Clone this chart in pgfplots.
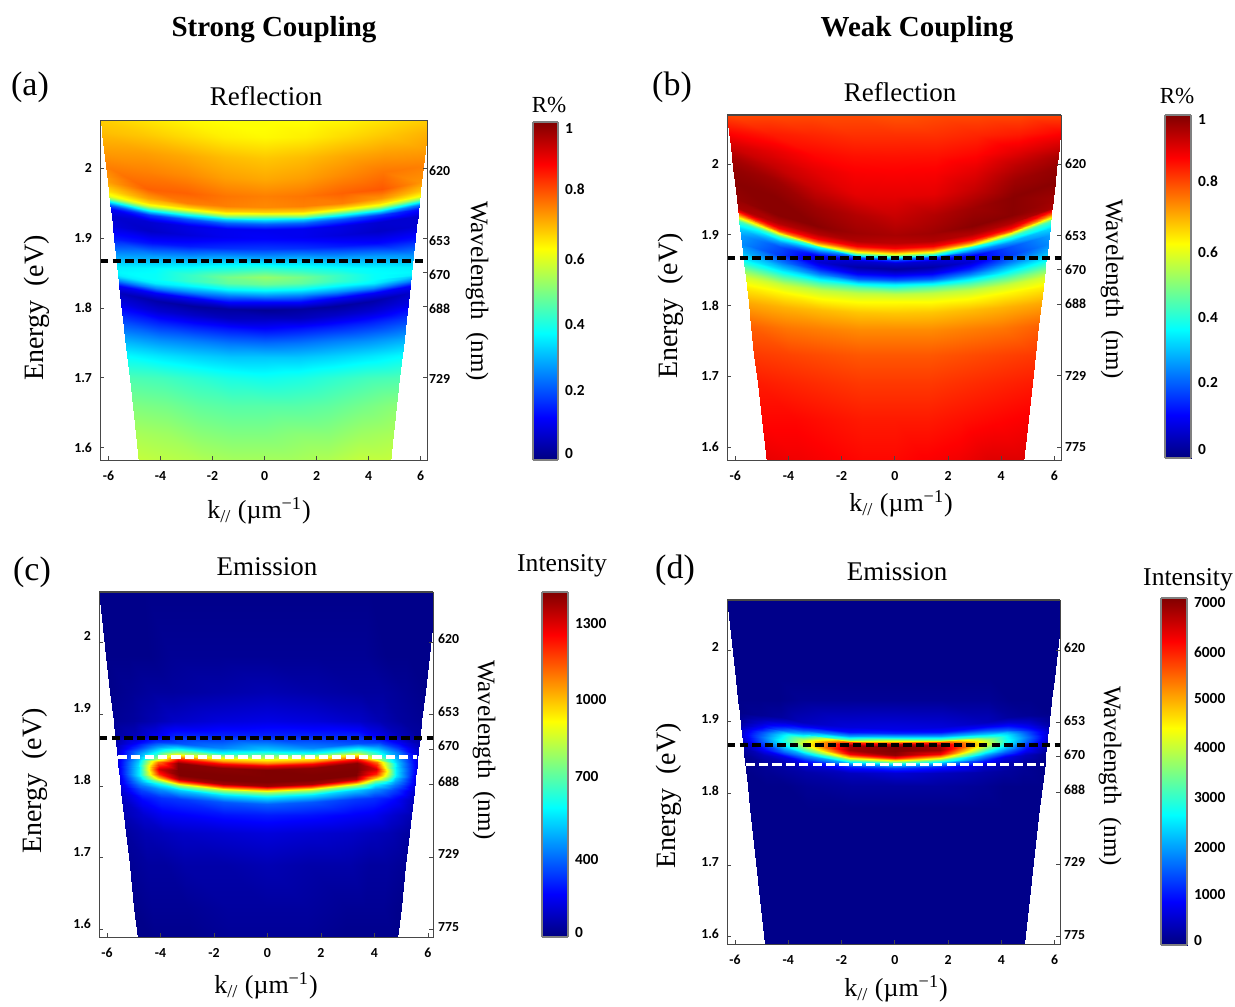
\documentclass[border=0pt]{standalone}
\usepackage{fontspec}
\usepackage{pgfplots}
\usepackage{pgfplotstable}
\pgfplotsset{compat=1.18}
\setmainfont{Liberation Serif}
\newfontfamily\carl{Carlito}
\newcommand\tkf{\carl\bfseries\fontsize{6.9pt}{7pt}\selectfont}
\newcommand\cbf{\carl\bfseries\fontsize{7.7pt}{8pt}\selectfont}
\pgfplotsset{colormap={myjet}{rgb255(0cm)=(0,0,128) rgb255(1cm)=(0,0,255) rgb255(3cm)=(0,255,255) rgb255(5cm)=(255,255,0) rgb255(7cm)=(255,0,0) rgb255(8cm)=(128,0,0)}}
\pgfplotstableread[row sep=\\]{e v\\
2.072 67\\2.072 65\\2.072 63\\2.072 62\\2.072 62\\2.072 62\\2.072 63\\2.072 65\\2.072 67\\
2.051 69\\2.048 68\\2.047 66\\2.045 64\\2.045 63\\2.045 64\\2.047 66\\2.048 68\\2.051 70\\
2.027 72\\2.022 72\\2.018 71\\2.016 69\\2.015 68\\2.016 69\\2.018 71\\2.022 72\\2.027 72\\
2.003 75\\1.995 75\\1.990 74\\1.986 72\\1.985 71\\1.986 72\\1.990 74\\1.995 76\\2.003 75\\
1.980 72\\1.971 78\\1.965 78\\1.961 76\\1.960 75\\1.961 76\\1.965 78\\1.971 79\\1.980 73\\
1.967 66\\1.957 72\\1.951 75\\1.946 75\\1.945 74\\1.946 75\\1.951 75\\1.957 73\\1.967 68\\
1.960 60\\1.950 66\\1.944 68\\1.939 68\\1.938 67\\1.939 68\\1.944 68\\1.950 66\\1.960 62\\
1.956 50\\1.946 58\\1.940 60\\1.935 60\\1.934 60\\1.935 60\\1.940 60\\1.946 58\\1.956 52\\
1.952 35\\1.942 44\\1.936 46\\1.931 47\\1.930 47\\1.931 47\\1.936 46\\1.942 44\\1.952 38\\
1.948 22\\1.938 30\\1.932 33\\1.927 34\\1.926 34\\1.927 34\\1.932 33\\1.938 30\\1.948 24\\
1.942 12\\1.933 18\\1.927 21\\1.922 22\\1.921 22\\1.922 22\\1.927 21\\1.933 18\\1.942 14\\
1.932 8\\1.923 8\\1.917 10\\1.913 11\\1.912 11\\1.913 11\\1.917 10\\1.923 8\\1.932 8\\
1.918 9\\1.910 7\\1.905 9\\1.901 11\\1.900 12\\1.901 11\\1.905 9\\1.910 7\\1.918 8\\
1.899 15\\1.893 14\\1.889 15\\1.886 17\\1.885 18\\1.886 17\\1.889 15\\1.893 13\\1.899 14\\
1.878 27\\1.874 28\\1.872 29\\1.871 30\\1.870 30\\1.871 30\\1.872 29\\1.874 28\\1.878 26\\
1.859 36\\1.857 37\\1.856 39\\1.855 42\\1.855 44\\1.855 42\\1.856 39\\1.857 37\\1.859 36\\
1.851 37\\1.848 38\\1.847 43\\1.845 49\\1.845 52\\1.845 49\\1.847 43\\1.848 38\\1.851 37\\
1.847 36\\1.842 38\\1.838 43\\1.836 47\\1.835 48\\1.836 47\\1.838 43\\1.842 38\\1.847 36\\
1.844 33\\1.836 36\\1.831 37\\1.827 38\\1.826 38\\1.827 38\\1.831 37\\1.836 36\\1.844 32\\
1.839 25\\1.829 26\\1.823 26\\1.818 26\\1.817 26\\1.818 26\\1.823 26\\1.829 26\\1.839 25\\
1.832 12\\1.821 12\\1.814 12\\1.809 13\\1.808 13\\1.809 13\\1.814 12\\1.821 12\\1.832 12\\
1.821 6\\1.810 4\\1.803 3\\1.798 3\\1.797 2\\1.798 3\\1.803 3\\1.810 4\\1.821 7\\
1.805 10\\1.796 8\\1.790 7\\1.786 6\\1.785 6\\1.786 6\\1.790 7\\1.796 8\\1.805 10\\
1.784 18\\1.778 16\\1.774 15\\1.771 14\\1.770 13\\1.771 14\\1.774 15\\1.778 16\\1.784 18\\
1.756 29\\1.753 27\\1.752 25\\1.750 24\\1.750 23\\1.750 24\\1.752 25\\1.753 27\\1.756 29\\
1.733 37\\1.731 35\\1.731 33\\1.730 32\\1.730 32\\1.730 32\\1.731 33\\1.731 35\\1.733 37\\
1.700 45\\1.700 44\\1.700 42\\1.700 40\\1.700 39\\1.700 40\\1.700 42\\1.700 44\\1.700 45\\
1.660 50\\1.660 49\\1.660 47\\1.660 46\\1.660 46\\1.660 46\\1.660 47\\1.660 49\\1.660 51\\
1.620 54\\1.620 53\\1.620 51\\1.620 50\\1.620 50\\1.620 51\\1.620 51\\1.620 53\\1.620 54\\
1.578 57\\1.578 56\\1.578 55\\1.578 54\\1.578 54\\1.578 54\\1.578 55\\1.578 57\\1.578 57\\
}\ta
\pgfplotstableread[row sep=\\]{e v\\
2.072 80\\2.072 80\\2.072 80\\2.072 80\\2.072 79\\2.072 80\\2.072 80\\2.072 80\\2.072 80\\
2.045 87\\2.043 85\\2.041 84\\2.040 83\\2.040 83\\2.040 83\\2.041 84\\2.043 85\\2.045 87\\
2.025 92\\2.018 90\\2.014 87\\2.011 86\\2.010 86\\2.011 86\\2.014 87\\2.018 90\\2.025 92\\
2.010 96\\1.999 93\\1.991 90\\1.987 88\\1.985 88\\1.987 88\\1.991 90\\1.999 94\\2.010 96\\
1.995 98\\1.978 97\\1.965 93\\1.958 90\\1.955 90\\1.958 90\\1.965 93\\1.978 97\\1.995 98\\
1.975 99\\1.953 99\\1.938 97\\1.928 95\\1.925 93\\1.928 95\\1.938 97\\1.953 99\\1.975 99\\
1.950 98\\1.928 99\\1.913 99\\1.903 97\\1.900 96\\1.903 97\\1.913 99\\1.928 99\\1.950 97\\
1.938 96\\1.916 95\\1.901 95\\1.891 95\\1.888 94\\1.891 95\\1.901 95\\1.916 95\\1.938 96\\
1.933 88\\1.910 88\\1.894 88\\1.884 88\\1.881 88\\1.884 88\\1.894 88\\1.910 88\\1.933 88\\
1.929 78\\1.906 78\\1.890 78\\1.880 78\\1.877 78\\1.880 78\\1.890 78\\1.906 78\\1.929 78\\
1.925 65\\1.902 64\\1.886 63\\1.876 62\\1.873 62\\1.876 62\\1.886 63\\1.902 64\\1.925 65\\
1.919 45\\1.897 42\\1.882 40\\1.872 40\\1.869 40\\1.872 40\\1.882 40\\1.897 42\\1.919 45\\
1.910 34\\1.890 28\\1.876 22\\1.868 20\\1.865 20\\1.868 20\\1.876 22\\1.890 28\\1.910 34\\
1.900 28\\1.883 20\\1.870 11\\1.863 8\\1.860 8\\1.863 8\\1.870 11\\1.883 20\\1.900 28\\
1.887 26\\1.872 18\\1.861 8\\1.854 4\\1.852 3\\1.854 4\\1.861 8\\1.872 18\\1.887 26\\
1.876 30\\1.862 24\\1.852 16\\1.846 11\\1.844 10\\1.846 11\\1.852 16\\1.862 24\\1.876 30\\
1.866 36\\1.853 32\\1.844 25\\1.838 22\\1.836 21\\1.838 22\\1.844 25\\1.853 32\\1.866 36\\
1.858 42\\1.846 39\\1.837 36\\1.832 35\\1.830 35\\1.832 35\\1.837 36\\1.846 39\\1.858 42\\
1.850 50\\1.839 47\\1.831 46\\1.826 46\\1.824 46\\1.826 46\\1.831 46\\1.839 47\\1.850 50\\
1.840 58\\1.829 57\\1.822 56\\1.817 56\\1.816 56\\1.817 56\\1.822 56\\1.829 57\\1.840 58\\
1.826 64\\1.817 63\\1.811 62\\1.807 62\\1.806 62\\1.807 62\\1.811 62\\1.817 63\\1.826 64\\
1.804 71\\1.798 70\\1.794 69\\1.791 68\\1.790 68\\1.791 68\\1.794 69\\1.798 70\\1.804 71\\
1.771 78\\1.768 76\\1.767 75\\1.765 74\\1.765 74\\1.765 74\\1.767 75\\1.768 76\\1.771 78\\
1.730 82\\1.730 81\\1.730 80\\1.730 79\\1.730 79\\1.730 79\\1.730 80\\1.730 81\\1.730 82\\
1.690 85\\1.690 84\\1.690 83\\1.690 82\\1.690 82\\1.690 82\\1.690 83\\1.690 84\\1.690 85\\
1.640 87\\1.640 87\\1.640 86\\1.640 85\\1.640 85\\1.640 85\\1.640 86\\1.640 87\\1.640 88\\
1.578 90\\1.578 89\\1.578 88\\1.578 87\\1.578 87\\1.578 88\\1.578 89\\1.578 91\\1.578 91\\
}\tb
\pgfplotstableread[row sep=\\]{e v\\
2.072 1\\2.072 1\\2.072 1\\2.072 1\\2.072 1\\2.072 1\\2.072 1\\2.072 1\\2.072 1\\2.072 1\\2.072 1\\
1.980 1\\1.980 1\\1.980 1\\1.980 2\\1.980 2\\1.980 2\\1.980 2\\1.980 2\\1.980 1\\1.980 1\\1.980 1\\
1.930 1\\1.930 2\\1.930 3\\1.930 3\\1.930 4\\1.930 5\\1.930 4\\1.930 3\\1.930 3\\1.930 2\\1.930 1\\
1.890 2\\1.890 3\\1.890 5\\1.890 7\\1.890 9\\1.890 10\\1.890 9\\1.890 7\\1.890 5\\1.890 3\\1.890 2\\
1.870 3\\1.870 6\\1.870 11\\1.870 16\\1.870 16\\1.870 16\\1.870 16\\1.870 16\\1.870 11\\1.870 6\\1.870 3\\
1.858 5\\1.860 12\\1.861 18\\1.860 20\\1.853 26\\1.850 33\\1.853 26\\1.860 20\\1.861 18\\1.860 12\\1.858 5\\
1.851 7\\1.853 18\\1.854 28\\1.853 35\\1.846 38\\1.843 48\\1.846 38\\1.853 35\\1.854 28\\1.853 18\\1.851 7\\
1.845 8\\1.847 24\\1.848 36\\1.847 50\\1.840 58\\1.837 60\\1.840 58\\1.847 50\\1.848 36\\1.847 24\\1.845 8\\
1.840 9\\1.842 27\\1.843 44\\1.842 70\\1.835 72\\1.832 74\\1.835 72\\1.842 70\\1.843 44\\1.842 27\\1.840 9\\
1.835 10\\1.837 30\\1.838 56\\1.837 85\\1.830 88\\1.827 90\\1.830 88\\1.837 85\\1.838 56\\1.837 30\\1.835 10\\
1.830 10\\1.832 33\\1.833 76\\1.832 99\\1.825 99\\1.822 100\\1.825 99\\1.832 99\\1.833 76\\1.832 33\\1.830 10\\
1.820 11\\1.822 36\\1.823 92\\1.822 100\\1.815 100\\1.812 100\\1.815 100\\1.822 100\\1.823 92\\1.822 36\\1.820 11\\
1.813 11\\1.815 36\\1.816 84\\1.815 100\\1.808 100\\1.805 100\\1.808 100\\1.815 100\\1.816 84\\1.815 36\\1.813 11\\
1.808 10\\1.810 32\\1.811 68\\1.810 95\\1.803 96\\1.800 97\\1.803 96\\1.810 95\\1.811 68\\1.810 32\\1.808 10\\
1.804 10\\1.806 28\\1.807 50\\1.806 78\\1.799 78\\1.796 76\\1.799 78\\1.806 78\\1.807 50\\1.806 28\\1.804 10\\
1.799 9\\1.801 24\\1.802 38\\1.801 55\\1.794 55\\1.791 55\\1.794 55\\1.801 55\\1.802 38\\1.801 24\\1.799 9\\
1.793 8\\1.795 19\\1.796 27\\1.795 33\\1.788 35\\1.785 36\\1.788 35\\1.795 33\\1.796 27\\1.795 19\\1.793 8\\
1.780 6\\1.782 13\\1.783 17\\1.782 18\\1.777 21\\1.775 22\\1.777 21\\1.782 18\\1.783 17\\1.782 13\\1.780 6\\
1.760 5\\1.760 8\\1.760 11\\1.760 12\\1.760 14\\1.760 15\\1.760 14\\1.760 12\\1.760 11\\1.760 8\\1.760 5\\
1.735 3\\1.735 5\\1.735 6\\1.735 7\\1.735 8\\1.735 9\\1.735 8\\1.735 7\\1.735 6\\1.735 5\\1.735 3\\
1.690 2\\1.690 3\\1.690 3\\1.690 4\\1.690 4\\1.690 5\\1.690 4\\1.690 4\\1.690 3\\1.690 3\\1.690 2\\
1.630 1\\1.630 2\\1.630 2\\1.630 2\\1.630 3\\1.630 3\\1.630 3\\1.630 2\\1.630 2\\1.630 2\\1.630 1\\
1.578 1\\1.578 1\\1.578 1\\1.578 1\\1.578 2\\1.578 2\\1.578 2\\1.578 1\\1.578 1\\1.578 1\\1.578 1\\
}\tc
\pgfplotstableread[row sep=\\]{e v\\
2.072 1\\2.072 1\\2.072 1\\2.072 1\\2.072 1\\2.072 1\\2.072 1\\2.072 1\\2.072 1\\2.072 1\\2.072 1\\
1.960 1\\1.960 1\\1.960 1\\1.960 1\\1.960 1\\1.960 1\\1.960 1\\1.960 1\\1.960 1\\1.960 1\\1.960 1\\
1.930 1\\1.930 1\\1.930 1\\1.930 2\\1.930 2\\1.930 2\\1.930 2\\1.930 2\\1.930 1\\1.930 1\\1.930 1\\
1.912 1\\1.910 2\\1.906 3\\1.900 6\\1.892 9\\1.890 10\\1.892 9\\1.900 6\\1.906 3\\1.910 2\\1.912 1\\
1.906 2\\1.904 5\\1.900 8\\1.894 11\\1.886 14\\1.884 16\\1.886 14\\1.894 11\\1.900 8\\1.904 5\\1.906 2\\
1.900 3\\1.898 8\\1.894 14\\1.888 20\\1.880 28\\1.878 33\\1.880 28\\1.888 20\\1.894 14\\1.898 8\\1.900 3\\
1.895 4\\1.893 12\\1.889 22\\1.883 32\\1.875 50\\1.873 62\\1.875 50\\1.883 32\\1.889 22\\1.893 12\\1.895 4\\
1.891 6\\1.889 16\\1.885 30\\1.879 44\\1.871 80\\1.869 92\\1.871 80\\1.879 44\\1.885 30\\1.889 16\\1.891 6\\
1.887 8\\1.885 20\\1.881 36\\1.875 56\\1.867 96\\1.865 100\\1.867 96\\1.875 56\\1.881 36\\1.885 20\\1.887 8\\
1.881 9\\1.879 24\\1.875 40\\1.869 60\\1.861 97\\1.859 100\\1.861 97\\1.869 60\\1.875 40\\1.879 24\\1.881 9\\
1.875 8\\1.873 22\\1.869 38\\1.863 50\\1.855 88\\1.853 98\\1.855 88\\1.863 50\\1.869 38\\1.873 22\\1.875 8\\
1.871 6\\1.869 18\\1.865 32\\1.859 42\\1.851 70\\1.849 85\\1.851 70\\1.859 42\\1.865 32\\1.869 18\\1.871 6\\
1.863 4\\1.861 12\\1.858 22\\1.853 28\\1.847 48\\1.845 58\\1.847 48\\1.853 28\\1.858 22\\1.861 12\\1.863 4\\
1.855 2\\1.853 6\\1.851 10\\1.847 16\\1.842 30\\1.841 36\\1.842 30\\1.847 16\\1.851 10\\1.853 6\\1.855 2\\
1.844 1\\1.843 3\\1.842 5\\1.840 8\\1.837 15\\1.836 18\\1.837 15\\1.840 8\\1.842 5\\1.843 3\\1.844 1\\
1.832 1\\1.832 2\\1.831 3\\1.830 4\\1.828 6\\1.828 8\\1.828 6\\1.830 4\\1.831 3\\1.832 2\\1.832 1\\
1.810 1\\1.810 1\\1.810 1\\1.810 2\\1.810 3\\1.810 3\\1.810 3\\1.810 2\\1.810 1\\1.810 1\\1.810 1\\
1.780 1\\1.780 1\\1.780 1\\1.780 1\\1.780 1\\1.780 1\\1.780 1\\1.780 1\\1.780 1\\1.780 1\\1.780 1\\
1.578 1\\1.578 1\\1.578 1\\1.578 1\\1.578 1\\1.578 1\\1.578 1\\1.578 1\\1.578 1\\1.578 1\\1.578 1\\
}\td
\pgfplotsset{
  boxc/.style={axis line style={line width=.5pt,black!72},tick style={line width=.4pt,black!72}},
  hm/.style={boxc,scale only axis,anchor=south west,view={0}{90},zmin=-1,zmax=101,ztick=\empty,
    colormap name=myjet,point meta min=0,point meta max=100,tick align=inside,major tick length=2.2pt,
    xtick pos=left,ytick pos=left,
    xtick={-6,-4,-2,0,2,4,6},xticklabels={-6,-4,-2,0,2,4,6},
    ytick={1.6,1.7,1.8,1.9,2},yticklabels={1.6,1.7,1.8,1.9,2},
    xticklabel style={font=\tkf,yshift=-2pt},yticklabel style={font=\tkf,xshift=-.5pt}},
  hr/.style={boxc,scale only axis,anchor=south west,xtick=\empty,ytick pos=right,yticklabel pos=right,
    tick align=inside,major tick length=2.2pt,yticklabel style={font=\tkf}},
  nine/.style={surf,shader=interp,mesh/cols=9,point meta=\thisrow{v}},
  elev/.style={surf,shader=interp,mesh/cols=11,point meta=\thisrow{v}},
  table/xn/.style={y=e,z=v,x expr={(mod(\coordindex,9)-4)/4*(4.84+3*(\thisrow{e}-1.584))}},
  table/xe/.style={y=e,z=v,x expr={(mod(\coordindex,11)-5)*min(0.3,0.1333+0.3333/max(abs(mod(\coordindex,11)-5),1))*(4.84+3*(\thisrow{e}-1.584))}},
  blk/.style={black,line width=1.9pt,dash pattern=on 4.2pt off 2.1pt},
  wht/.style={white,line width=1.7pt,dash pattern=on 4.6pt off 2.1pt},
  cb/.style={boxc,scale only axis,anchor=south west,view={0}{90},zmin=-1,zmax=1,ztick=\empty,
    xmin=0,xmax=1,ymin=0,ymax=100,xtick=\empty,colormap name=myjet,point meta min=0,point meta max=100,
    ytick pos=right,yticklabel pos=right,tick style={draw=none},axis line style={line width=.7pt,black!50},
    yticklabel style={font=\cbf}},
  cbp/.style={surf,shader=interp,mesh/cols=2,point meta=y},
}
\newcommand\T[4]{\node[#4] at (#1*0.5pt,-#2*0.5pt) {#3};}
\newcommand\klab{k\textsubscript{//} (\textmu m\textsuperscript{\char"2212 1})}
\begin{document}
\begin{tikzpicture}
\path[use as bounding box] (0,0) rectangle (617.5pt,-503pt);
% (a)
\begin{axis}[hm,at={(50pt,-230pt)},width=163.5pt,height=169.5pt,xmin=-6.33,xmax=6.25,ymin=1.582,ymax=2.068]
\addplot3[nine] table[xn]{\ta};
\addplot3[blk] coordinates {(-6.33,1.867,0)(6.25,1.867,0)};
\end{axis}
\begin{axis}[hr,at={(50pt,-230pt)},width=163.5pt,height=169.5pt,xmin=-6.33,xmax=6.25,ymin=1.582,ymax=2.068,
  yticklabel style={xshift=-2.5pt,yshift=-1pt},
  ytick={1.701,1.802,1.851,1.899,2},yticklabels={729,688,670,653,620}]
\end{axis}
% (b)
\begin{axis}[hm,at={(363.5pt,-230pt)},width=167pt,height=172.5pt,xmin=-6.31,xmax=6.25,ymin=1.5816,ymax=2.0693]
\addplot3[nine] table[xn]{\tb};
\addplot3[blk] coordinates {(-6.31,1.867,0)(6.25,1.867,0)};
\end{axis}
\begin{axis}[hr,at={(363.5pt,-230pt)},width=167pt,height=172.5pt,xmin=-6.31,xmax=6.25,ymin=1.5816,ymax=2.0693,
  yticklabel style={xshift=-1.5pt},
  ytick={1.6,1.701,1.802,1.851,1.899,2},yticklabels={775,729,688,670,653,620}]
\end{axis}
% (c)
\begin{axis}[hm,at={(49.5pt,-468.5pt)},width=167pt,height=172.5pt,xmin=-6.3,xmax=6.19,ymin=1.59,ymax=2.0695,yticklabel style={yshift=3pt}]
\addplot3[elev] table[xe]{\tc};
\addplot3[blk] coordinates {(-6.3,1.867,0)(6.19,1.867,0)};
\addplot3[wht] coordinates {(-5.6,1.84,0)(5.6,1.84,0)};
\end{axis}
\begin{axis}[hr,at={(49.5pt,-468.5pt)},width=167pt,height=172.5pt,xmin=-6.3,xmax=6.19,ymin=1.59,ymax=2.0695,
  yticklabel style={xshift=-1pt,yshift=1.5pt},
  ytick={1.6,1.701,1.802,1.851,1.899,2},yticklabels={775,729,688,670,653,620}]
\end{axis}
% (d)
\begin{axis}[hm,at={(363.5pt,-472pt)},width=166.5pt,height=172pt,xmin=-6.3,xmax=6.2,ymin=1.59,ymax=2.0697,yticklabel style={yshift=1.5pt}]
\addplot3[elev] table[xe]{\td};
\addplot3[blk] coordinates {(-6.3,1.868,0)(6.2,1.868,0)};
\addplot3[wht] coordinates {(-5.6,1.84,0)(5.6,1.84,0)};
\end{axis}
\begin{axis}[hr,at={(363.5pt,-472pt)},width=166.5pt,height=172pt,xmin=-6.3,xmax=6.2,ymin=1.59,ymax=2.0697,
  yticklabel style={xshift=-1.5pt,yshift=1pt},
  ytick={1.6,1.701,1.802,1.851,1.899,2},yticklabels={775,729,688,670,653,620}]
\end{axis}
% colour bars
\begin{axis}[cb,at={(266.5pt,-230pt)},width=12.5pt,height=169pt,ytick={1.8,20.7,40.2,59.5,80.2,98.2},yticklabels={0,0.2,0.4,0.6,0.8,1}]
\addplot3[cbp] coordinates {(0,0,0)(1,0,0)(0,100,0)(1,100,0)};
\end{axis}
\begin{axis}[cb,at={(582.5pt,-229pt)},width=13pt,height=171.5pt,ytick={2.6,21.9,41,60,80.7,98.8},yticklabels={0,0.2,0.4,0.6,0.8,1}]
\addplot3[cbp] coordinates {(0,0,0)(1,0,0)(0,100,0)(1,100,0)};
\end{axis}
\begin{axis}[cb,at={(271pt,-468.5pt)},width=13pt,height=172.5pt,ytick={1.4,22.6,46.4,68.7,91},yticklabels={0,400,700,1000,1300}]
\addplot3[cbp] coordinates {(0,0,0)(1,0,0)(0,100,0)(1,100,0)};
\end{axis}
\begin{axis}[cb,at={(580.5pt,-472.5pt)},width=13pt,height=173.5pt,ytick={1.4,14.7,28,42.4,56.8,71.1,84.4,98.6},yticklabels={0,1000,2000,3000,4000,5000,6000,7000}]
\addplot3[cbp] coordinates {(0,0,0)(1,0,0)(0,100,0)(1,100,0)};
\end{axis}
% text
\T{274}{30}{\fontsize{14.5pt}{16pt}\selectfont\bfseries Strong Coupling}{}
\T{917}{30}{\fontsize{14.5pt}{16pt}\selectfont\bfseries Weak Coupling}{}
\T{30}{87}{\fontsize{17pt}{18pt}\selectfont (a)}{}
\T{672}{87}{\fontsize{17pt}{18pt}\selectfont (b)}{}
\T{32}{572}{\fontsize{17pt}{18pt}\selectfont (c)}{}
\T{675}{570}{\fontsize{17pt}{18pt}\selectfont (d)}{}
\T{266}{96}{\fontsize{13.5pt}{15pt}\selectfont Reflection}{}
\T{900}{92}{\fontsize{13.5pt}{15pt}\selectfont Reflection}{}
\T{267}{567}{\fontsize{13.5pt}{15pt}\selectfont Emission}{}
\T{897}{572}{\fontsize{13.5pt}{15pt}\selectfont Emission}{}
\T{549}{105}{\fontsize{11.5pt}{13pt}\selectfont R\%}{}
\T{1177}{96}{\fontsize{11.5pt}{13pt}\selectfont R\%}{}
\T{562}{566}{\fontsize{12.8pt}{14pt}\selectfont Intensity}{}
\T{1188}{580}{\fontsize{12.8pt}{14pt}\selectfont Intensity}{}
\T{37}{308}{\fontsize{14pt}{16pt}\selectfont Energy\ \ (eV)}{rotate=90}
\T{671}{306}{\fontsize{14pt}{16pt}\selectfont Energy\ \ (eV)}{rotate=90}
\T{35}{781}{\fontsize{14pt}{16pt}\selectfont Energy\ \ (eV)}{rotate=90}
\T{669}{796}{\fontsize{14pt}{16pt}\selectfont Energy\ \ (eV)}{rotate=90}
\T{477}{291}{\fontsize{12.5pt}{15pt}\selectfont Wavelength\ \ (nm)}{rotate=-90}
\T{1112}{289}{\fontsize{12.5pt}{15pt}\selectfont Wavelength\ \ (nm)}{rotate=-90}
\T{484}{750}{\fontsize{12.5pt}{15pt}\selectfont Wavelength\ \ (nm)}{rotate=-90}
\T{1110}{776}{\fontsize{12.5pt}{15pt}\selectfont Wavelength\ \ (nm)}{rotate=-90}
\T{259}{511}{\fontsize{13pt}{15pt}\selectfont \klab}{}
\T{901}{504}{\fontsize{13pt}{15pt}\selectfont \klab}{}
\T{266}{986}{\fontsize{13pt}{15pt}\selectfont \klab}{}
\T{896}{989}{\fontsize{13pt}{15pt}\selectfont \klab}{}
\end{tikzpicture}
\end{document}
